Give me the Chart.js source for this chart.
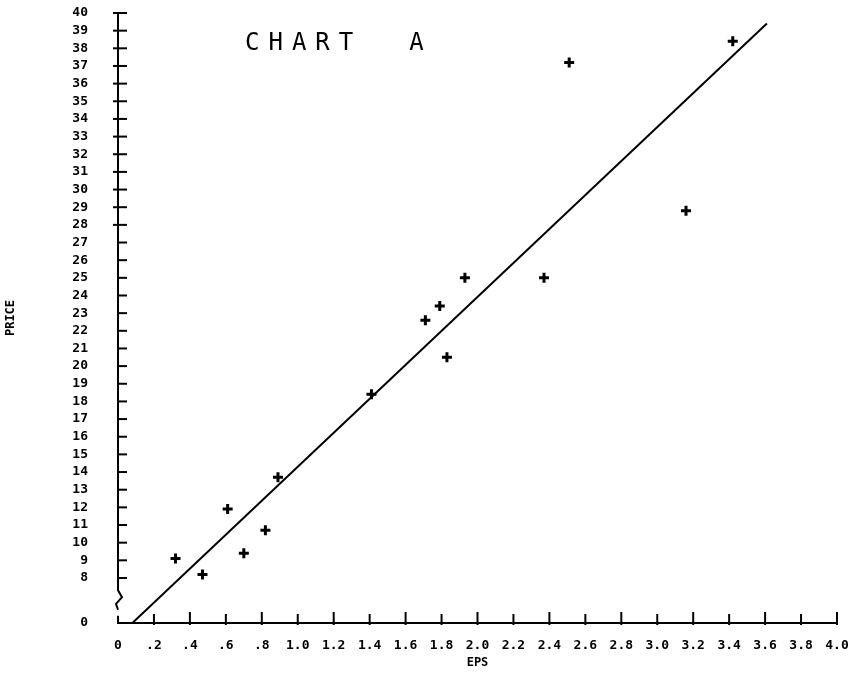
<!DOCTYPE html>
<html>
<head>
<meta charset="utf-8">
<script src="https://cdn.jsdelivr.net/npm/chart.js@4"></script>
<style>
  html, body { margin: 0; padding: 0; background: #fff; }
  #wrap { width: 857px; height: 676px; }
</style>
</head>
<body>
<div id="wrap"><canvas id="chartA"></canvas></div>
<script>
// scatter points
const epsValues = [0.32, 0.47, 0.61, 0.70, 0.82, 0.89, 1.41, 1.71, 1.79, 1.83, 1.93, 2.37, 2.51, 3.16, 3.42];
const priceValues = [9.1, 8.2, 11.9, 9.4, 10.7, 13.7, 18.4, 22.6, 23.4, 20.5, 25.0, 25.0, 37.2, 28.8, 38.4];

// fitted line ends (y axis is broken: bottom of axis is labelled 0)
const axisBreakValue = 5.45;
const fitEps = [0.08, 3.61];
const fitPrice = [axisBreakValue, 39.4];

const xTickValues = [0, 0.2, 0.4, 0.6, 0.8, 1.0, 1.2, 1.4, 1.6, 1.8, 2.0, 2.2, 2.4, 2.6, 2.8, 3.0, 3.2, 3.4, 3.6, 3.8, 4.0];
const xTickLabels = ["0", ".2", ".4", ".6", ".8", "1.0", "1.2", "1.4", "1.6", "1.8", "2.0", "2.2", "2.4", "2.6", "2.8", "3.0", "3.2", "3.4", "3.6", "3.8", "4.0"];
const yTickValues = [axisBreakValue, 8, 9, 10, 11, 12, 13, 14, 15, 16, 17, 18, 19, 20, 21, 22, 23, 24, 25, 26, 27, 28, 29, 30, 31, 32, 33, 34, 35, 36, 37, 38, 39, 40];
const yTickLabels = ["0", "8", "9", "10", "11", "12", "13", "14", "15", "16", "17", "18", "19", "20", "21", "22", "23", "24", "25", "26", "27", "28", "29", "30", "31", "32", "33", "34", "35", "36", "37", "38", "39", "40"];

const tickFont = { family: "DejaVu Sans Mono", size: 13, weight: "bold" };

// axes, inside ticks, axis break and the title are drawn by hand
const plotterPlugin = {
    id: "plotter",
    afterDraw(chart) {
        const ctx = chart.ctx;
        const xs = chart.scales.x;
        const ys = chart.scales.y;
        const area = chart.chartArea;
        ctx.save();
        ctx.strokeStyle = "#000";
        ctx.lineWidth = 2;

        // y axis with break
        const breakTop = ys.getPixelForValue(7.3);
        const breakBot = ys.getPixelForValue(6.2);
        ctx.beginPath();
        ctx.moveTo(area.left, area.top);
        ctx.lineTo(area.left, breakTop);
        ctx.lineTo(area.left + 4, breakTop + (breakBot - breakTop) * 0.35);
        ctx.lineTo(area.left - 2, breakTop + (breakBot - breakTop) * 0.7);
        ctx.lineTo(area.left, breakBot);
        ctx.moveTo(area.left, breakBot + 6);
        ctx.lineTo(area.left, area.bottom);
        ctx.lineTo(area.right, area.bottom);
        ctx.stroke();

        // y ticks: crossing in the upper part, inside only lower down
        ys.ticks.forEach(t => {
            if (t.value === axisBreakValue) return;
            const py = ys.getPixelForValue(t.value);
            ctx.beginPath();
            ctx.moveTo(t.value >= 28 ? area.left - 5 : area.left, py);
            ctx.lineTo(area.left + 9, py);
            ctx.stroke();
        });
        // x ticks pointing up
        xs.ticks.forEach((t, i) => {
            if (i === 0) return;
            const px = xs.getPixelForValue(t.value);
            ctx.beginPath();
            ctx.moveTo(px, area.bottom + 2);
            ctx.lineTo(px, area.bottom - (i % 2 === 0 ? 11 : 9));
            ctx.stroke();
        });

        // title inside the plot
        ctx.fillStyle = "#000";
        ctx.font = '24px "DejaVu Sans Mono"';
        ctx.letterSpacing = "9px";
        ctx.textBaseline = "alphabetic";
        ctx.fillText("CHART  A", area.left + 127, area.top + 37);
        ctx.restore();
    }
};

const points = epsValues.map((x, i) => ({ x: x, y: priceValues[i] }));
const fitLine = fitEps.map((x, i) => ({ x: x, y: fitPrice[i] }));

new Chart(document.getElementById("chartA"), {
    type: "scatter",
    data: {
        datasets: [
            {
                label: "EPS / PRICE",
                data: points,
                pointStyle: "cross",
                pointRadius: 5,
                borderColor: "#000",
                backgroundColor: "#000",
                borderWidth: 3
            },
            {
                label: "Fit",
                type: "line",
                data: fitLine,
                showLine: true,
                borderColor: "#000",
                borderWidth: 2,
                pointRadius: 0,
                fill: false
            }
        ]
    },
    options: {
        responsive: true,
        maintainAspectRatio: false,
        animation: false,
        layout: { autoPadding: false, padding: { top: 13, right: 20, left: 0, bottom: 0 } },
        plugins: {
            legend: { display: false },
            tooltip: { enabled: false }
        },
        scales: {
            x: {
                type: "linear",
                min: 0,
                max: 4,
                grid: { display: false },
                border: { display: false },
                afterBuildTicks: scale => { scale.ticks = xTickValues.map(v => ({ value: v })); },
                afterFit: scale => { scale.height = 53; scale.paddingLeft = 0; scale.paddingRight = 0; },
                ticks: {
                    color: "#000",
                    font: tickFont,
                    padding: 7,
                    maxRotation: 0,
                    autoSkip: false,
                    callback: (v, i) => xTickLabels[i]
                },
                title: {
                    display: true,
                    text: "EPS",
                    color: "#000",
                    font: { family: "DejaVu Sans Mono", size: 12, weight: "bold" },
                    padding: { top: 4, bottom: 6 }
                }
            },
            y: {
                type: "linear",
                min: axisBreakValue,
                max: 40,
                grid: { display: false },
                border: { display: false },
                afterBuildTicks: scale => { scale.ticks = yTickValues.map(v => ({ value: v })); },
                afterFit: scale => { scale.width = 118; scale.paddingTop = 0; scale.paddingBottom = 0; },
                ticks: {
                    color: "#000",
                    font: tickFont,
                    padding: 22,
                    autoSkip: false,
                    callback: (v, i) => yTickLabels[i]
                },
                title: {
                    display: true,
                    text: "PRICE",
                    color: "#000",
                    font: { family: "DejaVu Sans Mono", size: 12, weight: "bold" },
                    padding: { top: 4, bottom: 4 }
                }
            }
        }
    },
    plugins: [plotterPlugin]
});
</script>
</body>
</html>
